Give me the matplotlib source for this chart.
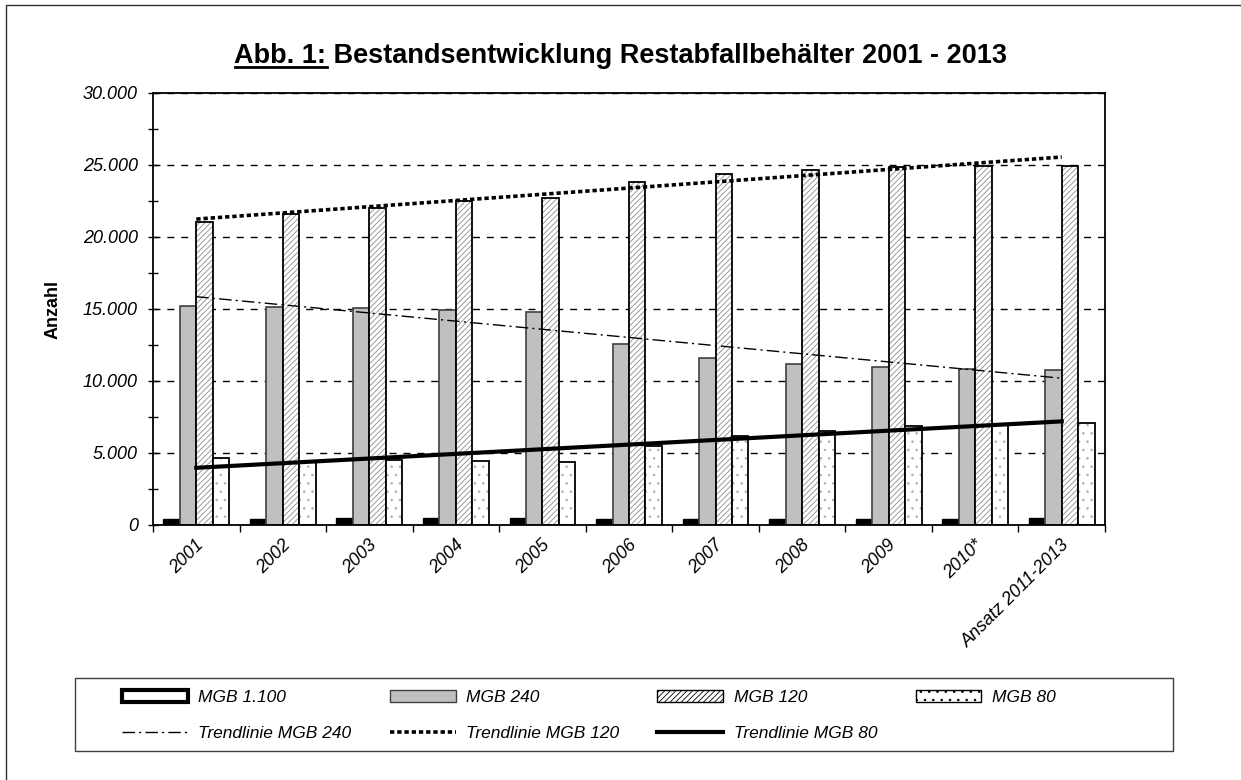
import numpy as np
import matplotlib.pyplot as plt
import matplotlib.transforms as mtransforms
from matplotlib.patches import Patch, Rectangle
from matplotlib.lines import Line2D
from matplotlib.ticker import FuncFormatter, MultipleLocator

plt.rcParams['font.family'] = ['Liberation Sans', 'DejaVu Sans']
plt.rcParams['hatch.linewidth'] = 0.6

# Daten
jahre = ['2001', '2002', '2003', '2004', '2005', '2006', '2007', '2008',
         '2009', '2010*', 'Ansatz 2011-2013']
mgb_1100 = [420, 420, 440, 440, 440, 420, 420, 420, 420, 420, 460]
mgb_240 = [15200, 15150, 15070, 14950, 14810, 12540, 11610, 11200, 10990, 10850, 10760]
mgb_120 = [21030, 21600, 22000, 22470, 22670, 23830, 24390, 24620, 24850, 24920, 24950]
mgb_80 = [4610, 4370, 4490, 4440, 4370, 5460, 6150, 6520, 6850, 6900, 7080]

W, H = 1241, 780
fig = plt.figure(figsize=(W / 100, H / 100), dpi=100)
ax = fig.add_axes([153 / W, 1 - 524.7 / H, (1105 - 153) / W, (524.7 - 93) / H])

x = np.arange(len(jahre)) + 0.5
w = 0.19
ax.bar(x - 1.5 * w, mgb_1100, w, color='black', edgecolor='black', lw=1, zorder=2)
ax.bar(x - 0.5 * w, mgb_240, w, color='#c0c0c0', edgecolor='#404040', lw=1.2, zorder=2)
ax.bar(x + 0.5 * w, mgb_120, w, color='white', edgecolor='#8c8c8c', hatch='//////', lw=0, zorder=2)
ax.bar(x + 0.5 * w, mgb_120, w, fill=False, edgecolor='black', lw=1.3, zorder=2)
ax.bar(x + 1.5 * w, mgb_80, w, color='white', edgecolor='#b0b0b0', hatch='..', lw=0, zorder=2)
ax.bar(x + 1.5 * w, mgb_80, w, fill=False, edgecolor='black', lw=1.3, zorder=2)

# lineare Trendlinien
stil_240 = dict(color='black', lw=1.0, ls=(0, (9, 3, 1.5, 3)))
stil_120 = dict(color='black', lw=2.6, ls=(0, (1.2, 0.8)))
stil_80 = dict(color='black', lw=3.0, ls='-')
i = np.arange(len(jahre))
for werte, stil in [(mgb_240, stil_240), (mgb_120, stil_120), (mgb_80, stil_80)]:
    k = np.polyfit(i, werte, 1)
    ax.plot(x, np.polyval(k, i), zorder=3, **stil)

ax.set_xlim(0, len(jahre))
ax.set_ylim(0, 30000)
ax.yaxis.set_major_locator(MultipleLocator(5000))
ax.yaxis.set_minor_locator(MultipleLocator(2500))
ax.yaxis.set_major_formatter(FuncFormatter(lambda v, p: f'{int(v):,}'.replace(',', '.')))
ax.yaxis.grid(True, ls=(0, (5, 5)), color='black', lw=1.0)
ax.set_axisbelow(True)
ax.tick_params(axis='y', which='both', direction='inout', length=7, width=1, labelsize=13, pad=7.5)

ax.set_xticks(x)
ax.set_xticklabels(jahre, rotation=45, ha='right', va='center', rotation_mode='anchor')
ax.set_xticks(np.arange(len(jahre) + 1), minor=True)
ax.tick_params(axis='x', which='major', length=0, labelsize=13, pad=13)
ax.tick_params(axis='x', which='minor', direction='out', length=5, width=1)
verschiebung = mtransforms.ScaledTranslation(5 / 100, 0, fig.dpi_scale_trans)
for lbl in ax.get_xticklabels():
    lbl.set_transform(lbl.get_transform() + verschiebung)
for lbl in ax.get_xticklabels() + ax.get_yticklabels():
    lbl.set_fontstyle('italic')
for s in ax.spines.values():
    s.set_linewidth(1.3)

fig.text(53 / W, 1 - 310 / H, 'Anzahl', rotation=90, fontsize=13, fontweight='bold',
         ha='center', va='center')

# Titel mit unterstrichenem "Abb. 1:"
ty = 1 - 63 / H
t1 = fig.text(0, ty, 'Abb. 1:', fontsize=19.5, fontweight='bold', va='baseline')
t2 = fig.text(0, ty, ' Bestandsentwicklung Restabfallbehälter 2001 - 2013', fontsize=19.5,
              fontweight='bold', va='baseline')
fig.canvas.draw()
r = fig.canvas.get_renderer()
b1 = t1.get_window_extent(r)
b2 = t2.get_window_extent(r)
x0 = 621 - (b1.width + b2.width) / 2
t1.set_x(x0 / W)
t2.set_x((x0 + b1.width) / W)
fig.add_artist(Line2D([x0 / W, (x0 + b1.width) / W], [1 - 67 / H] * 2, color='black', lw=2))

# Rahmen
fig.add_artist(Rectangle((6 / W, -0.1), 2, 1.1 - 5 / H, fill=False, edgecolor='#303030', lw=1))
fig.add_artist(Rectangle((75 / W, 1 - 751 / H), 1098 / W, 73 / H, fill=False,
                         edgecolor='#404040', lw=1))

handles = [
    Patch(facecolor='white', edgecolor='black', lw=3),
    Line2D([], [], **stil_240),
    Patch(facecolor='#c0c0c0', edgecolor='#404040', lw=1),
    Line2D([], [], **stil_120),
    Patch(facecolor='white', edgecolor='black', hatch='//////', lw=1),
    Line2D([], [], **stil_80),
    Patch(facecolor='white', edgecolor='black', hatch='..', lw=1),
]
labels = ['MGB 1.100', 'Trendlinie MGB 240', 'MGB 240', 'Trendlinie MGB 120',
          'MGB 120', 'Trendlinie MGB 80', 'MGB 80']
fig.legend(handles, labels, ncol=4, frameon=False, loc='upper left',
           bbox_to_anchor=(122 / W, 1 - 690 / H), borderpad=0, borderaxespad=0,
           handlelength=3.8, handleheight=0.7, handletextpad=0.6, labelspacing=1.18,
           columnspacing=2.2, prop={'size': 12.5, 'style': 'italic'})

fig.savefig('out.png', dpi=100)
